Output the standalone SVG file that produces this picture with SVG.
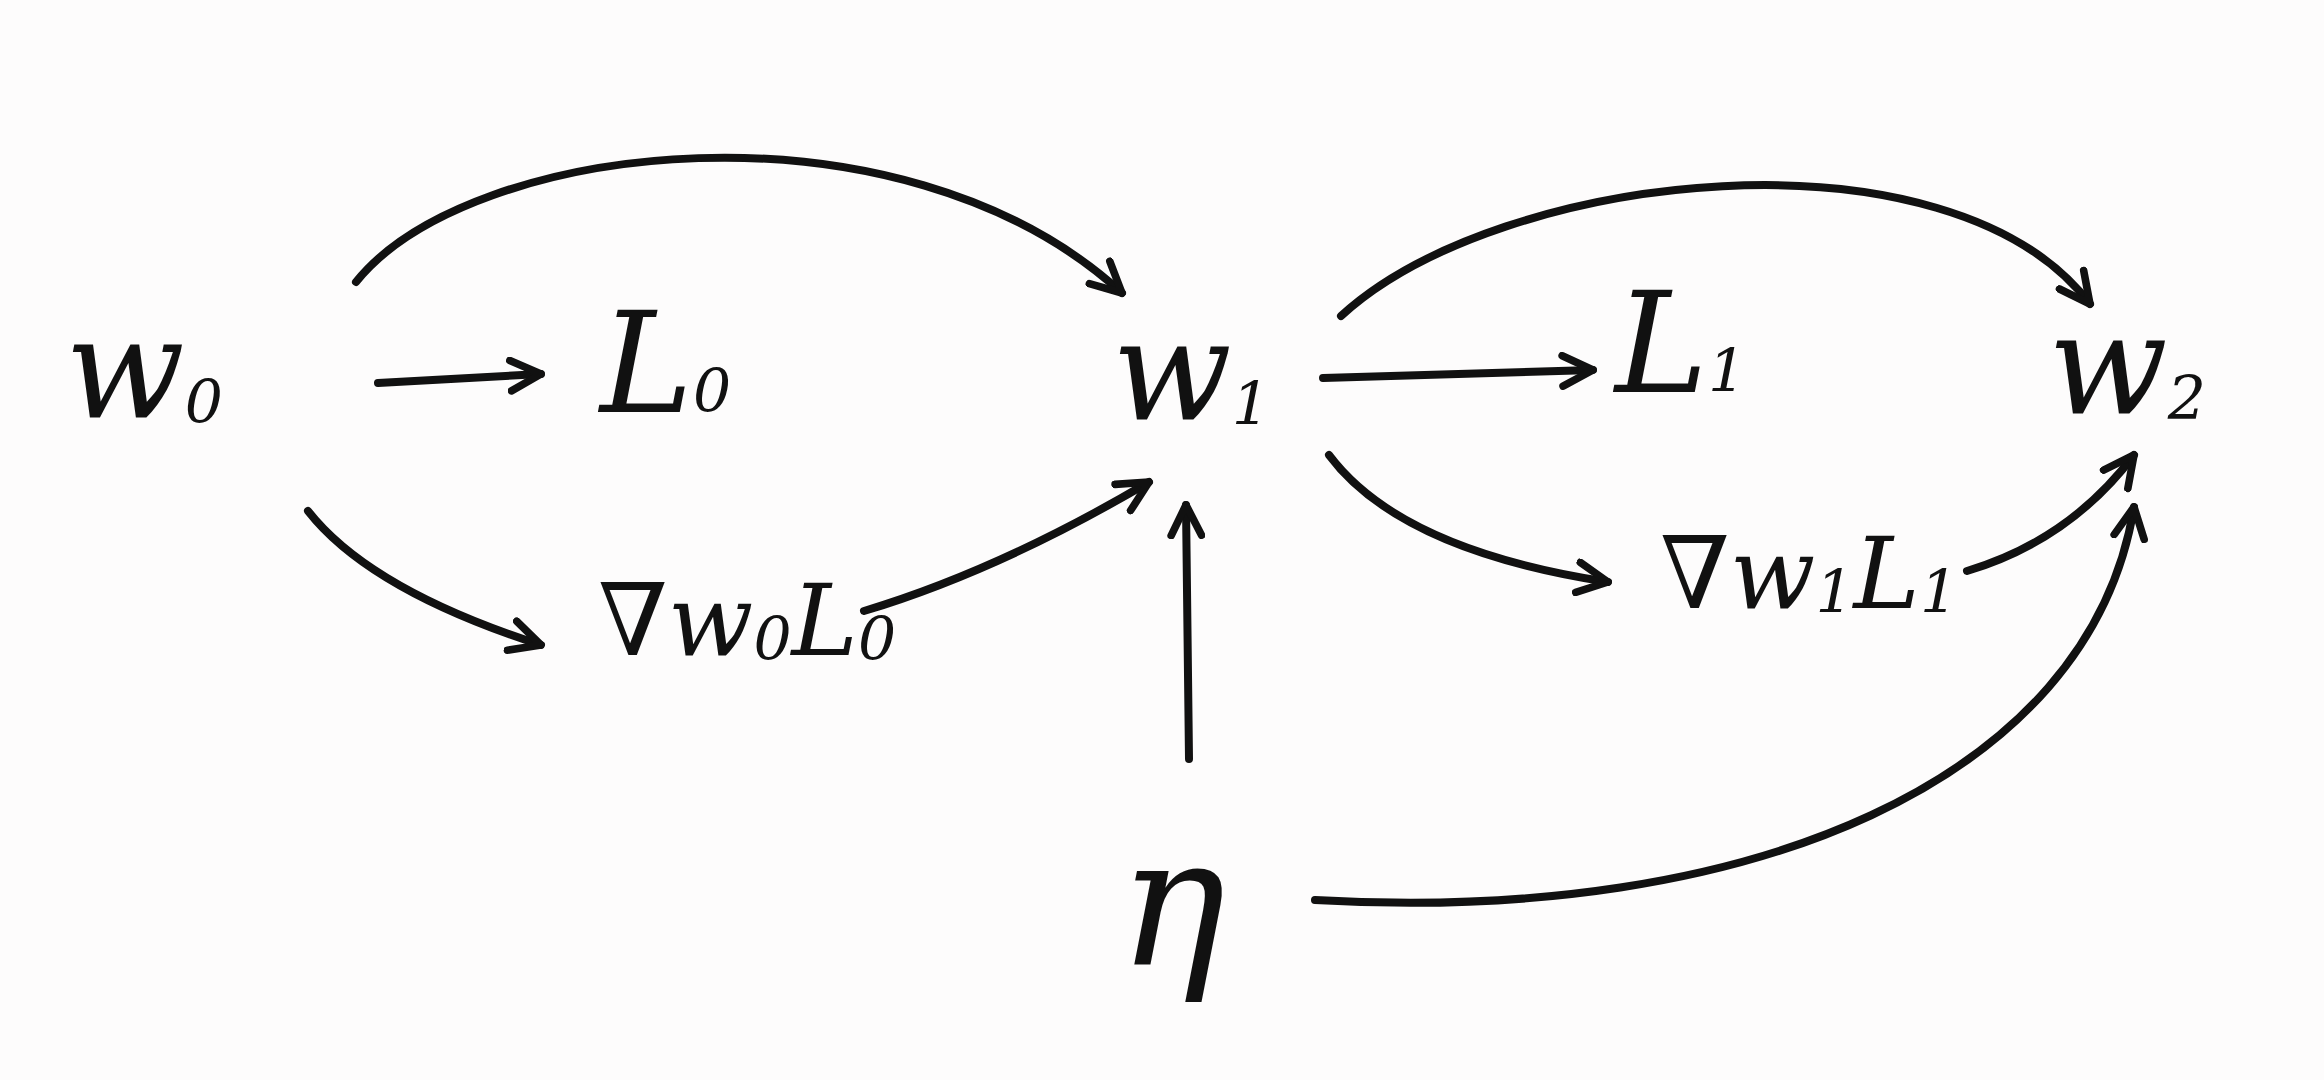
<svg xmlns="http://www.w3.org/2000/svg" width="2324" height="1080" viewBox="0 0 2324 1080">
<style>
.lbl{font-family:"DejaVu Serif",serif;font-style:italic;fill:#111}
.big{font-size:140px}
.mid{font-size:100px}
.sub{font-size:60px}
.edge{fill:none;stroke:#111;stroke-width:8;stroke-linecap:round;marker-end:url(#ah)}
</style>
<defs>
<marker id="ah" viewBox="0 0 10 10" refX="9" refY="5" markerWidth="38" markerHeight="38" markerUnits="userSpaceOnUse" orient="auto">
<path d="M1,1 L9,5 L1,9" fill="none" stroke="#111" stroke-width="2" stroke-linecap="round" stroke-linejoin="round"/>
</marker>
</defs>
<rect width="2324" height="1080" fill="#fdfcfc"/>
<g id="connectors">
<path class="edge" d="M356,282 C470,140 900,90 1122,293"/>
<path class="edge" d="M378,383 L541,374"/>
<path class="edge" d="M308,511 Q370,590 541,645"/>
<path class="edge" d="M864,611 Q1000,570 1149,482"/>
<path class="edge" d="M1189,759 L1186,505"/>
<path class="edge" d="M1323,378 L1593,370"/>
<path class="edge" d="M1341,316 C1500,170 1950,120 2090,304"/>
<path class="edge" d="M1329,455 Q1400,550 1608,582"/>
<path class="edge" d="M1967,571 Q2070,540 2134,455"/>
<path class="edge" d="M1315,900 C1750,925 2090,780 2134,507"/>
</g>
<g id="w0"><text class="lbl big" x="65" y="418">w<tspan class="sub" dy="5">0</tspan></text></g>
<g id="L0"><text class="lbl big" x="600" y="412">L<tspan class="sub" dy="0">0</tspan></text></g>
<g id="w1"><text class="lbl big" x="1112" y="420">w<tspan class="sub" dy="5">1</tspan></text></g>
<g id="L1"><text class="lbl big" x="1615" y="392">L<tspan class="sub" dy="0">1</tspan></text></g>
<g id="w2"><text class="lbl big" x="2048" y="414">w<tspan class="sub" dy="5">2</tspan></text></g>
<g id="gradL0"><text class="lbl mid" x="598" y="655">∇w<tspan class="sub" dy="5">0</tspan><tspan dy="-5">L</tspan><tspan class="sub" dy="5">0</tspan></text></g>
<g id="gradL1"><text class="lbl mid" x="1660" y="608">∇w<tspan class="sub" dy="5">1</tspan><tspan dy="-5">L</tspan><tspan class="sub" dy="5">1</tspan></text></g>
<g id="eta"><text class="lbl" style="font-size:180px" x="1118" y="965">η</text></g>
</svg>
